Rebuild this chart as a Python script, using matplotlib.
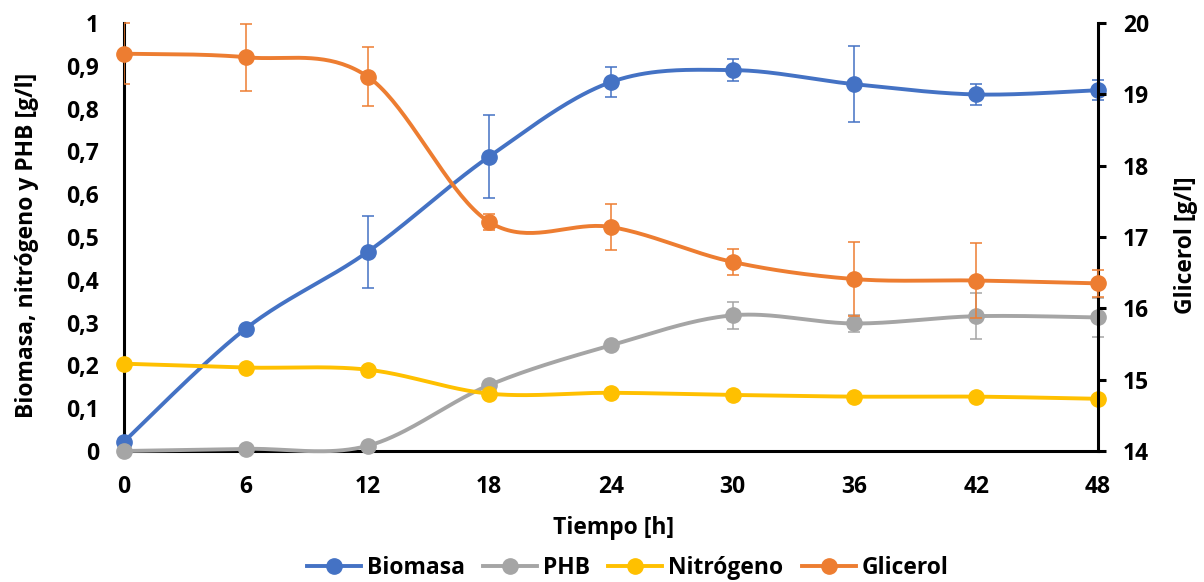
import numpy as np
import matplotlib
matplotlib.use("Agg")
import matplotlib.pyplot as plt
from matplotlib.lines import Line2D
from matplotlib.patches import Rectangle
from matplotlib.ticker import FuncFormatter, FixedLocator

plt.rcParams['font.family'] = ['Open Sans', 'DejaVu Sans']
plt.rcParams['font.weight'] = 'bold'

tiempo = [0, 6, 12, 18, 24, 30, 36, 42, 48]
biomasa = [0.022, 0.286, 0.465, 0.688, 0.862, 0.890, 0.857, 0.833, 0.843]
biomasa_err = [0.0, 0.0, 0.085, 0.097, 0.035, 0.025, 0.089, 0.025, 0.023]
phb = [0.0, 0.005, 0.012, 0.154, 0.247, 0.317, 0.298, 0.315, 0.312]
phb_err = [0.0, 0.0, 0.0, 0.0, 0.0, 0.032, 0.019, 0.054, 0.045]
nitrogeno = [0.204, 0.195, 0.190, 0.134, 0.136, 0.131, 0.127, 0.127, 0.122]
glicerol = [19.57, 19.52, 19.25, 17.21, 17.14, 16.65, 16.41, 16.39, 16.35]
glicerol_err = [0.43, 0.47, 0.42, 0.11, 0.32, 0.18, 0.52, 0.53, 0.19]

C_BIO = '#4472C4'
C_PHB = '#A5A5A5'
C_NIT = '#FFC000'
C_GLI = '#ED7D31'


def smooth(x, y, n=40):
    x = np.asarray(x, float)
    y = np.asarray(y, float)
    xs, ys = [], []
    N = len(x)
    for i in range(N - 1):
        p0 = np.array([x[max(i - 1, 0)], y[max(i - 1, 0)]])
        p1 = np.array([x[i], y[i]])
        p2 = np.array([x[i + 1], y[i + 1]])
        p3 = np.array([x[min(i + 2, N - 1)], y[min(i + 2, N - 1)]])
        c1 = p1 + (p2 - p0) / 6.0
        c2 = p2 - (p3 - p1) / 6.0
        t = np.linspace(0, 1, n)[:, None]
        pts = ((1 - t) ** 3) * p1 + 3 * ((1 - t) ** 2) * t * c1 + 3 * (1 - t) * t ** 2 * c2 + t ** 3 * p2
        xs.extend(pts[:, 0])
        ys.extend(pts[:, 1])
    return np.array(xs), np.array(ys)


W, H = 1204, 582
L, R, T, B = 124, 1098, 23, 451
fig = plt.figure(figsize=(W / 100, H / 100), dpi=100)
ax = fig.add_axes([L / W, 1 - B / H, (R - L) / W, (B - T) / H])
ax2 = ax.twinx()

lw = 2.8
ms = 11
fs = 16.5

def draw(a, y, err, color, z):
    sx, sy = smooth(tiempo, y)
    a.plot(sx, sy, color=color, lw=lw, zorder=z, solid_capstyle='round', clip_on=False)
    if err is not None:
        xe = [t for t, e in zip(tiempo, err) if e > 0]
        ye = [v for v, e in zip(y, err) if e > 0]
        ee = [e for e in err if e > 0]
        eb = a.errorbar(xe, ye, yerr=ee, fmt='none', ecolor=color, elinewidth=1.1,
                        capsize=4, capthick=1.1, zorder=z - 0.5)
        clip = Rectangle((0, -0.2), 1.1, 1.4, transform=a.transAxes, visible=False)
        a.add_patch(clip)
        for art in list(eb.lines[1]) + list(eb.lines[2]):
            art.set_clip_path(clip)
    a.plot(tiempo, y, 'o', color=color, ms=ms, zorder=z + 0.1, clip_on=False)

draw(ax, biomasa, biomasa_err, C_BIO, 3)
draw(ax, phb, phb_err, C_PHB, 4)
draw(ax, nitrogeno, None, C_NIT, 5)
draw(ax2, glicerol, glicerol_err, C_GLI, 3)

ax.set_xlim(0, 48)
ax.set_ylim(0, 1)
ax2.set_ylim(14, 20)
ax.set_xticks(tiempo)
ax.yaxis.set_major_locator(FixedLocator(np.round(np.arange(0, 1.01, 0.1), 1)))
ax.yaxis.set_major_formatter(FuncFormatter(lambda v, p: ('%g' % round(v, 1)).replace('.', ',')))
ax2.set_yticks(range(14, 21))

for a in (ax, ax2):
    a.spines['top'].set_visible(False)
ax2.spines['left'].set_visible(False)
ax2.spines['bottom'].set_visible(False)
ax.spines['right'].set_visible(False)
for s in ('left', 'bottom'):
    ax.spines[s].set_linewidth(2.2)
    ax.spines[s].set_color('black')
    ax.spines[s].set_zorder(1)
ax2.spines['right'].set_linewidth(2.2)
ax2.spines['right'].set_zorder(1)

ax.tick_params(axis='y', length=0, labelsize=fs, pad=18)
ax.tick_params(axis='x', length=0, labelsize=fs, pad=17)
ax2.tick_params(axis='y', length=6, width=2.2, direction='out', labelsize=fs, pad=12)
for lab in ax.get_xticklabels() + ax.get_yticklabels() + ax2.get_yticklabels():
    lab.set_fontweight('bold')

xl = ax.set_xlabel('Tiempo [h]', fontsize=fs, fontweight='bold')
xl.set_va('center')
ax.xaxis.set_label_coords(((552 + 675) / 2 - L) / (R - L), (B - 528) / (B - T))
yl = ax.set_ylabel('Biomasa, nitrógeno y PHB [g/l]', fontsize=fs, fontweight='bold')
yl.set_va('center')
ax.yaxis.set_label_coords((27 - L) / (R - L), 0.48)
yl2 = ax2.set_ylabel('Glicerol [g/l]', fontsize=fs, fontweight='bold')
yl2.set_va('center')
ax2.yaxis.set_label_coords((1186 - L) / (R - L), 0.48)

handles = [Line2D([], [], color=c, lw=lw, marker='o', ms=ms) for c in (C_BIO, C_PHB, C_NIT, C_GLI)]
fig.legend(handles, ['Biomasa', 'PHB', 'Nitrógeno', 'Glicerol'], loc='center left',
           bbox_to_anchor=(307 / W, 1 - 568 / H), ncol=4, frameon=False, borderpad=0,
           borderaxespad=0, prop={'size': fs, 'weight': 'bold'}, handlelength=2.35,
           handletextpad=0.26, columnspacing=0.8, numpoints=1)

fig.savefig('out.png', dpi=100)
